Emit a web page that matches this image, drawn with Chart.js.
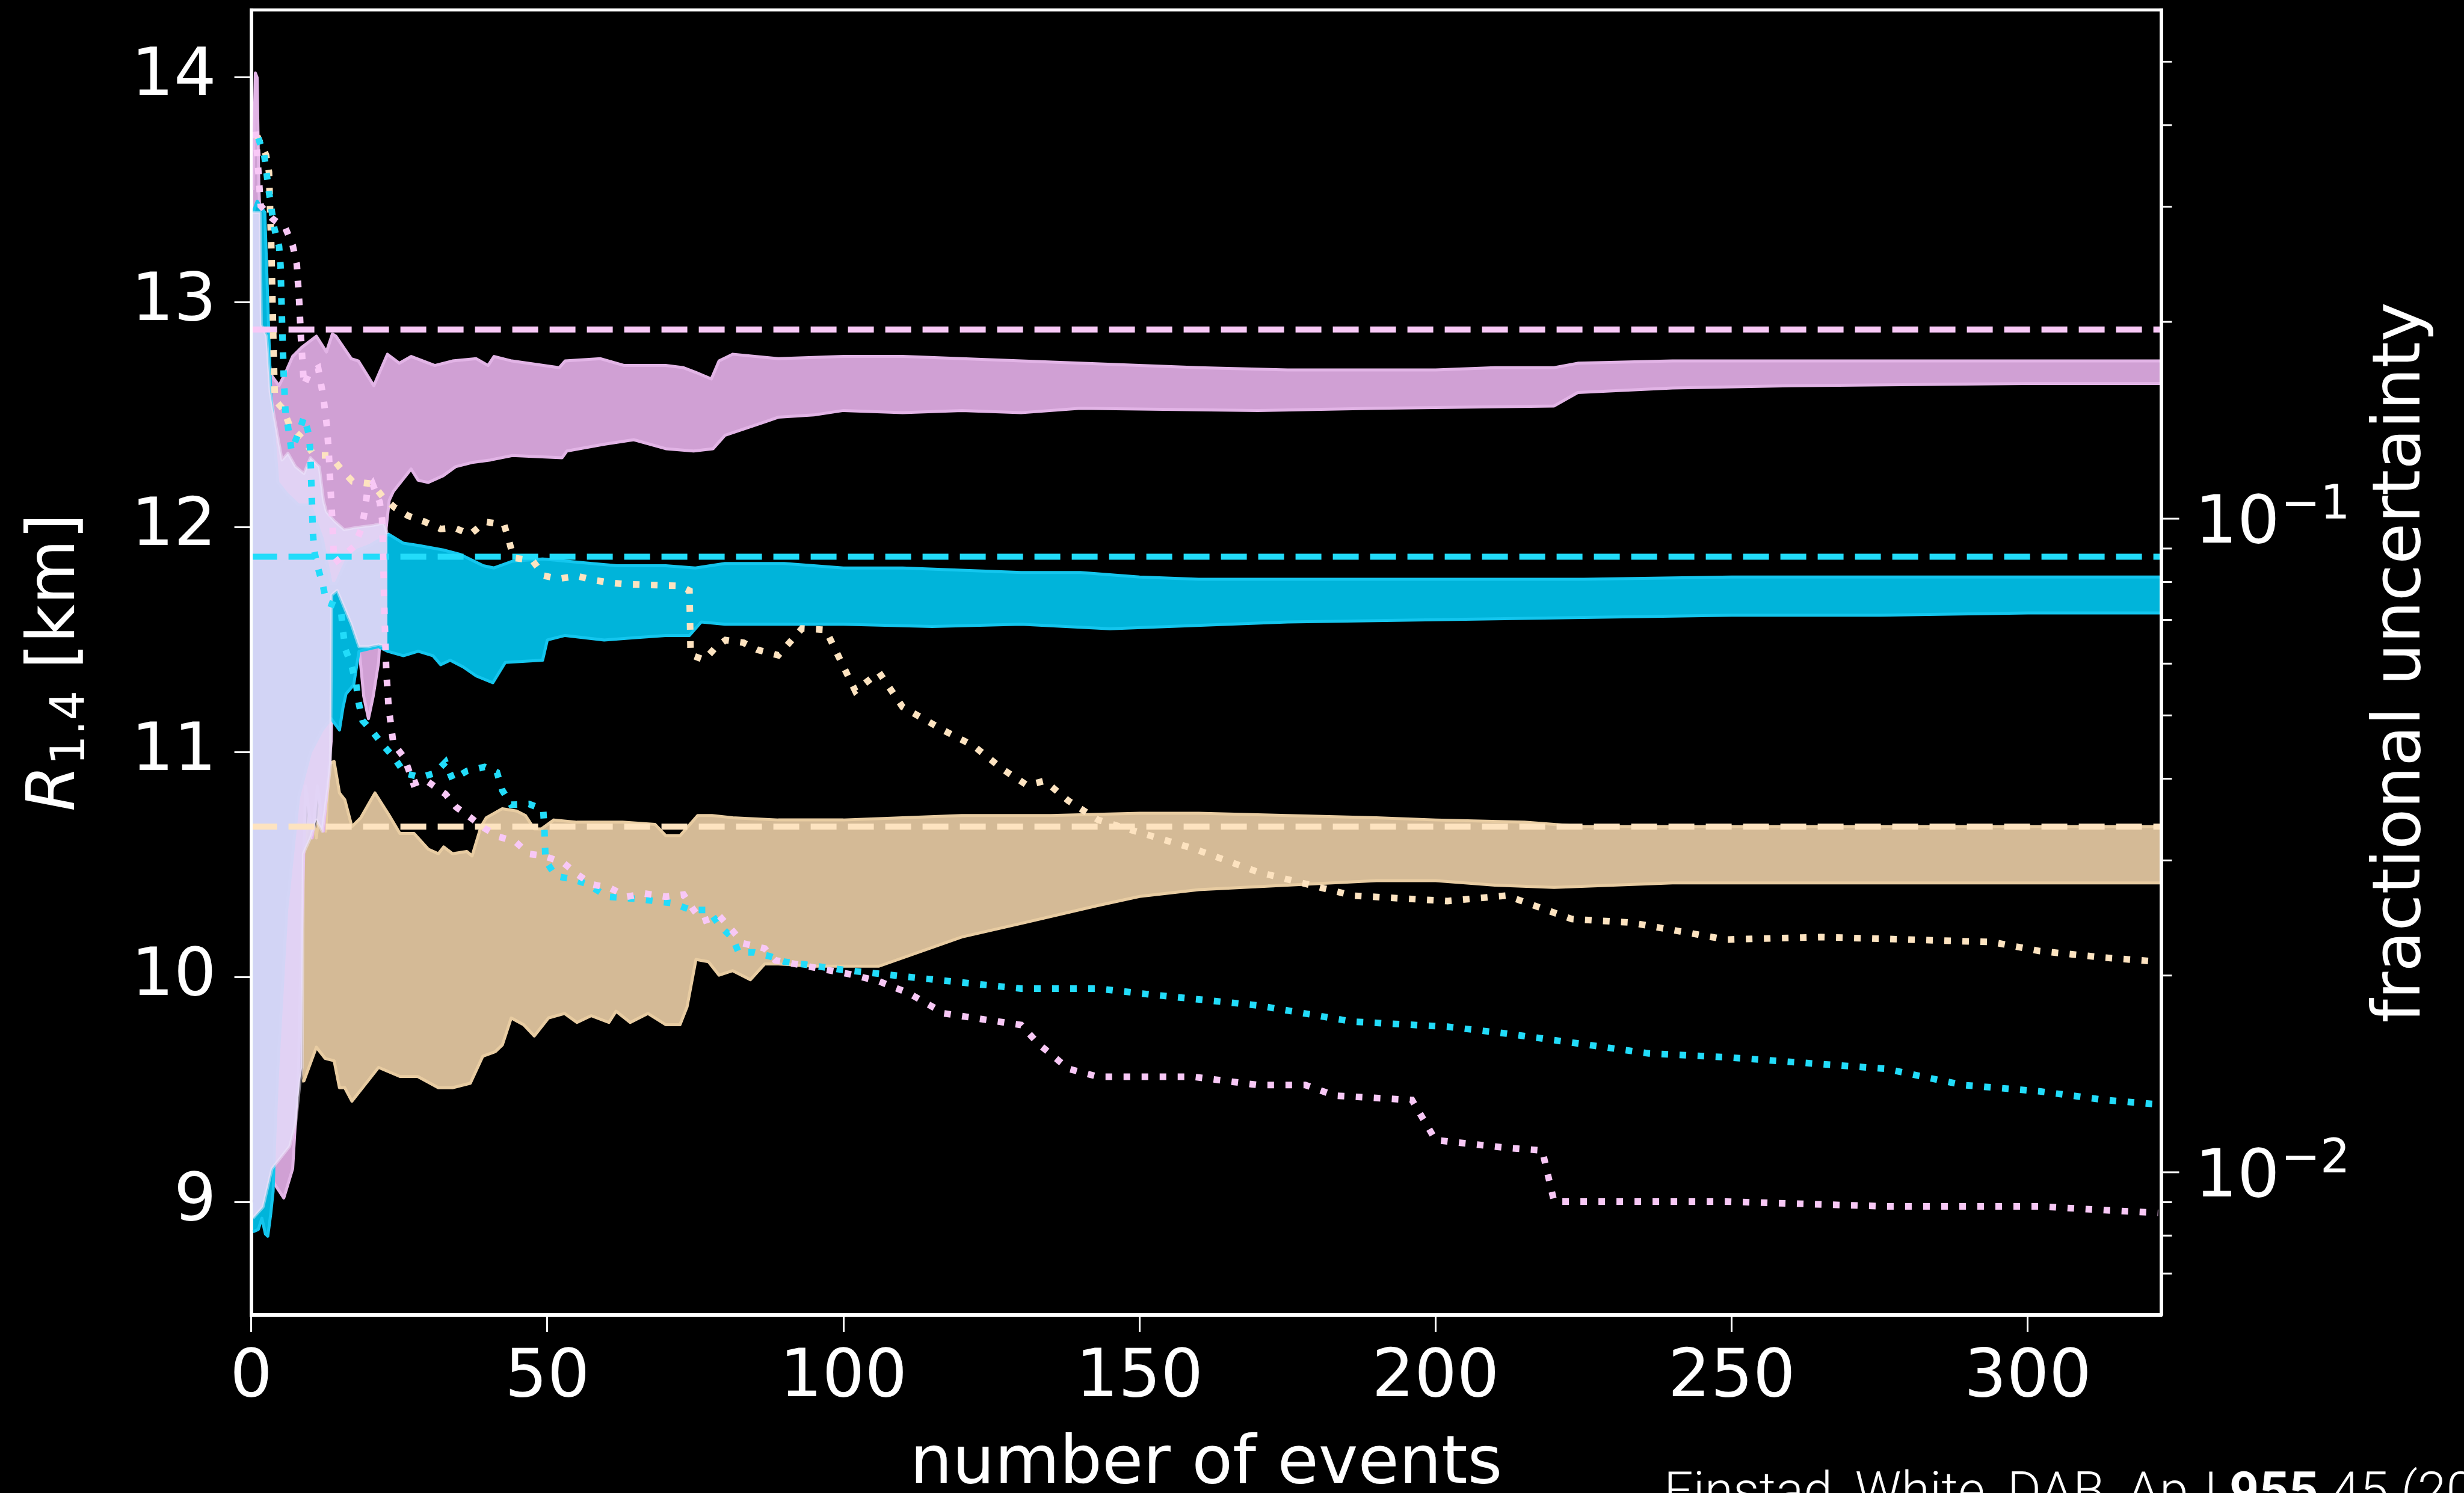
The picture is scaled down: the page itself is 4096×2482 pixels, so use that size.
<!DOCTYPE html>
<html>
<head>
<meta charset="utf-8">
<script src="https://cdn.jsdelivr.net/npm/chart.js@4.4.1/dist/chart.umd.min.js"></script>
<style>
  html, body { margin: 0; padding: 0; background: #000; }
  canvas { display: block; }
</style>
</head>
<body>
<canvas id="chart" width="4096" height="2482"></canvas>
<script>
// axis ticks
const xTicks = [0, 50, 100, 150, 200, 250, 300];
const radiusTicks = [9, 10, 11, 12, 13, 14];
const fracMajorTicks = [0.01, 0.1];
const fracMinorTicks = [0.007, 0.008, 0.009, 0.02, 0.03, 0.04, 0.05, 0.06, 0.07, 0.08, 0.09, 0.2, 0.3, 0.4, 0.5];

// injected radii (dashed lines), km: pink, cyan, tan
const trueRadii = [12.88, 11.87, 10.67];

// credible bands [events, R_1.4 km]
const pinkUpper = [[0.3,13.5],[0.7,14.02],[1.0,14.0],[1.3,13.5],[2.0,13.1],[2.6,12.85],[3.3,12.68],[4.7,12.63],[6.0,12.70],[7.0,12.76],[8.5,12.80],[11.0,12.85],[12.7,12.78],[13.7,12.86],[14.3,12.85],[16.9,12.75],[18.1,12.74],[20.7,12.63],[23.0,12.77],[25.0,12.73],[27.0,12.76],[31.0,12.72],[34.0,12.74],[38.0,12.75],[40.0,12.72],[41.0,12.76],[44.0,12.74],[52.0,12.71],[53.0,12.74],[59.0,12.75],[63.0,12.72],[70.0,12.72],[73.0,12.71],[75.0,12.69],[77.7,12.66],[79.0,12.74],[81.3,12.77],[89.0,12.75],[100,12.76],[110,12.76],[120,12.75],[130,12.74],[140,12.73],[150,12.72],[160,12.71],[175,12.70],[200,12.70],[210,12.71],[220,12.71],[224,12.73],[240,12.74],[280,12.74],[322.5,12.74]];
const pinkLower = [[0.3,9.0],[1.5,9.05],[3.5,9.1],[5.5,9.02],[7.0,9.15],[8.0,9.6],[8.6,10.3],[9.2,10.85],[10.3,10.62],[11.2,10.85],[12.2,10.65],[13.0,10.9],[13.5,11.05],[14.0,11.6],[16.0,11.6],[17.9,11.55],[19.0,11.25],[19.8,11.15],[20.6,11.25],[21.5,11.4],[22.3,11.75],[22.8,12.0],[23.3,12.12],[24.0,12.16],[27.0,12.26],[28.2,12.21],[29.9,12.20],[32.4,12.23],[34.5,12.27],[37.5,12.29],[40.4,12.30],[44.1,12.32],[52.5,12.31],[53.3,12.34],[59.6,12.37],[64.6,12.39],[70,12.35],[74.7,12.34],[78,12.35],[80,12.41],[86.8,12.47],[89,12.49],[95,12.50],[100,12.52],[110,12.51],[120,12.52],[130,12.51],[140,12.53],[170,12.52],[190,12.53],[220,12.54],[224,12.60],[240,12.62],[260,12.63],[300,12.64],[322.5,12.64]];

const cyanUpper = [[0.3,13.4],[1.0,13.45],[2.3,13.4],[2.8,13.0],[3.3,12.6],[4.5,12.2],[6,12.15],[8,12.1],[10,12.1],[12,11.95],[13.5,11.75],[14.3,11.75],[16,11.85],[18,11.9],[20,11.92],[23.2,11.97],[25.7,11.93],[28.2,11.92],[32.4,11.90],[35.3,11.88],[39.2,11.83],[41,11.82],[44.1,11.85],[49.2,11.86],[53.3,11.85],[57.5,11.84],[61.8,11.83],[70,11.83],[75,11.82],[80,11.84],[90,11.84],[100,11.82],[110,11.82],[120,11.81],[130,11.80],[140,11.80],[150,11.78],[160,11.77],[200,11.77],[225,11.77],[250,11.78],[322.5,11.78]];
const cyanLower = [[0.3,8.87],[1.2,8.88],[1.8,8.93],[2.4,8.86],[2.8,8.85],[3.3,8.95],[3.7,9.05],[4.0,9.3],[4.5,9.6],[6,10.3],[8,10.8],[10,11.0],[12,11.1],[13.5,11.15],[14.9,11.1],[15.5,11.2],[16,11.26],[17.3,11.3],[18.2,11.45],[19.8,11.46],[21.5,11.47],[23,11.45],[25.7,11.43],[28.2,11.45],[30.7,11.43],[32,11.39],[33.6,11.41],[35.8,11.38],[38,11.34],[40.8,11.31],[42.9,11.40],[49.2,11.41],[50,11.50],[53,11.52],[56.3,11.51],[59.6,11.50],[64.6,11.51],[70,11.52],[74,11.52],[76,11.58],[80,11.57],[100,11.57],[115,11.56],[130,11.57],[145,11.55],[155,11.56],[175,11.58],[200,11.59],[225,11.60],[250,11.61],[275,11.61],[300,11.62],[322.5,11.62]];

const tanUpper = [[8.6,10.55],[9.2,10.62],[10,10.75],[11,10.62],[12,10.85],[12.6,10.65],[13.1,10.95],[14,10.96],[14.9,10.82],[15.8,10.79],[17,10.67],[18.5,10.71],[20.9,10.82],[23.3,10.72],[25.1,10.64],[27.5,10.64],[29.9,10.57],[31.6,10.55],[32.5,10.58],[34,10.55],[36.4,10.56],[37.3,10.54],[38.8,10.67],[39.7,10.71],[42.4,10.75],[44.8,10.74],[46.3,10.72],[47.8,10.66],[49,10.66],[51.1,10.70],[55,10.69],[62.7,10.69],[68.2,10.68],[70,10.63],[72.4,10.63],[75.4,10.72],[77.8,10.72],[81.3,10.71],[89,10.70],[100,10.70],[110,10.71],[120,10.72],[135,10.72],[150,10.73],[160,10.73],[175,10.72],[190,10.71],[200,10.70],[215,10.69],[225,10.67],[250,10.67],[322.5,10.67]];
const tanLower = [[8.6,9.54],[8.9,9.54],[11,9.69],[12.5,9.64],[14,9.63],[14.9,9.51],[15.8,9.51],[17,9.45],[18.5,9.50],[21.5,9.60],[25.1,9.56],[28.1,9.56],[31.6,9.51],[34,9.51],[37,9.53],[39.1,9.65],[41.2,9.67],[42.4,9.70],[43.9,9.82],[46,9.79],[47.8,9.74],[50.2,9.82],[52.9,9.84],[55,9.80],[57.4,9.83],[60.4,9.80],[61.6,9.85],[64,9.80],[67,9.84],[70,9.79],[72.4,9.79],[73.6,9.87],[75.1,10.08],[77.2,10.07],[79,10.01],[81.3,10.03],[84.3,9.99],[86.7,10.06],[89,10.06],[95,10.05],[106,10.05],[120,10.18],[130,10.24],[143,10.32],[150,10.36],[160,10.39],[175,10.41],[190,10.43],[200,10.43],[210,10.41],[220,10.40],[240,10.42],[322.5,10.42]];

// pale early-time envelope laid over the bands
const earlyUpper = [[0.3,13.4],[1.5,13.4],[1.7,12.9],[2.6,12.85],[3.2,12.6],[3.9,12.49],[5.2,12.30],[6.2,12.33],[7.5,12.27],[8.9,12.24],[10,12.31],[11.5,12.27],[12.2,12.12],[12.7,12.07],[14,12.03],[15.7,11.99],[17.7,12.0],[20.7,12.01],[22.4,12.02],[23,11.97]];
const earlyLower = [[0.3,8.93],[2,8.98],[3.5,9.15],[5,9.2],[6.5,9.25],[7.5,9.35],[8.3,9.55],[8.6,9.6],[8.8,10.55],[10,10.62],[11,10.7],[12,10.65],[13,10.85],[13.4,10.95],[13.6,11.7],[14.5,11.72],[16.9,11.57],[18.2,11.47],[19.8,11.47],[21.5,11.48],[23,11.47]];

// fractional uncertainty (right log axis) [events, value]
const pinkFrac = [[0.75,0.391],[1.6,0.301],[3.5,0.288],[5.8,0.278],[7.0,0.262],[7.7,0.245],[8.1,0.215],[8.4,0.189],[8.6,0.177],[8.9,0.160],[9.8,0.167],[11.3,0.170],[12.2,0.153],[12.8,0.138],[13.1,0.126],[13.4,0.111],[13.7,0.0991],[14.0,0.0855],[15.4,0.0875],[17.3,0.0906],[18.6,0.0964],[19.2,0.103],[19.6,0.110],[20.5,0.113],[21.7,0.106],[22.1,0.0998],[22.3,0.0871],[22.5,0.0716],[22.7,0.0627],[22.8,0.0587],[23.2,0.0515],[23.6,0.0483],[24.0,0.0453],[25.9,0.0430],[27.4,0.0393],[29.3,0.0399],[32.8,0.0379],[34.6,0.0362],[37.0,0.0349],[39.4,0.0336],[41.8,0.0326],[44.5,0.0321],[46.9,0.0307],[49.3,0.0305],[52.6,0.0298],[55.0,0.0286],[57.4,0.0276],[60.7,0.0272],[63.4,0.0264],[66.4,0.0267],[70.0,0.0264],[73.0,0.0266],[74.7,0.0252],[76.2,0.0242],[79.0,0.0247],[81.3,0.0234],[83.1,0.0224],[86.7,0.0220],[88.5,0.0211],[101,0.0201],[106,0.0196],[111,0.0188],[117,0.0175],[130,0.0168],[133,0.0157],[138,0.0144],[143,0.0140],[159,0.0140],[170,0.0136],[178,0.0136],[183,0.0131],[196,0.0129],[200,0.0112],[212,0.0109],[218,0.0108],[220,0.00902],[249,0.00902],[276,0.00887],[302,0.00887],[313,0.00875],[322,0.00867]];
const cyanFrac = [[1.2,0.382],[2.2,0.360],[3.0,0.316],[3.9,0.278],[4.7,0.261],[4.95,0.244],[5.2,0.200],[5.5,0.164],[5.8,0.145],[6.4,0.135],[6.8,0.127],[8.1,0.136],[8.9,0.143],[9.8,0.134],[10.0,0.125],[10.4,0.0959],[10.6,0.0897],[11.2,0.0845],[12.1,0.0791],[12.7,0.0745],[14.4,0.0735],[15.2,0.0718],[15.5,0.0673],[15.9,0.0631],[16.9,0.0598],[17.7,0.0560],[18.1,0.0525],[18.8,0.0491],[20.5,0.0472],[22.3,0.0450],[24.2,0.0430],[25.9,0.0408],[28.6,0.0402],[31.0,0.0408],[32.8,0.0424],[34.0,0.0399],[36.4,0.0411],[39.4,0.0417],[41.5,0.0409],[42.4,0.0384],[43.9,0.0365],[46.9,0.0366],[49.3,0.0359],[49.5,0.0336],[49.7,0.0300],[51.4,0.0284],[54.1,0.0281],[56.8,0.0276],[60.1,0.0264],[65.2,0.0262],[71.2,0.0258],[74.2,0.0252],[77.2,0.0252],[79.0,0.0239],[81.3,0.0228],[82.3,0.0217],[84.9,0.0217],[87.6,0.0214],[90,0.0210],[100,0.0204],[111,0.0199],[130,0.0191],[143,0.0191],[152,0.0187],[170,0.0180],[186,0.0170],[202,0.0167],[212,0.0163],[225,0.0157],[236,0.0152],[249,0.0150],[276,0.0144],[289,0.0136],[302,0.0133],[313,0.0129],[322,0.0127]];
const tanFrac = [[1.0,0.385],[2.5,0.360],[3.0,0.339],[3.2,0.295],[3.4,0.259],[3.6,0.212],[3.75,0.186],[3.9,0.163],[4.0,0.152],[5.4,0.147],[6.6,0.138],[8.9,0.132],[10.6,0.125],[13.3,0.125],[15.2,0.119],[17.1,0.114],[20.5,0.113],[22.2,0.108],[24.2,0.104],[26.5,0.101],[29.3,0.0989],[32.0,0.0964],[34.3,0.0968],[37.0,0.0946],[39.5,0.0989],[42.7,0.0979],[43.5,0.0927],[44.3,0.0871],[47.5,0.0863],[49.4,0.0818],[51.9,0.0809],[55.0,0.0817],[58.0,0.0805],[60.5,0.0798],[63.0,0.0794],[72.4,0.0789],[74.0,0.0776],[74.2,0.0619],[76.5,0.0608],[78.4,0.0635],[80.1,0.0652],[83.1,0.0646],[85.5,0.0630],[89.0,0.0618],[93,0.0679],[97,0.0676],[102,0.0545],[106,0.0582],[110,0.0515],[117,0.0474],[122,0.0449],[127,0.0413],[131,0.0391],[134,0.0397],[138,0.0370],[143,0.0346],[150,0.0331],[159,0.0313],[170,0.0288],[186,0.0265],[202,0.0260],[212,0.0265],[223,0.0244],[233,0.0241],[249,0.0227],[265,0.0229],[280,0.0227],[294,0.0225],[302,0.0218],[313,0.0213],[322,0.0210]];

const xMax = 322.5;
const rMin = 8.5, rMax = 14.3;
const fMin = 0.00605, fMax = 0.6;

const xy = pts => pts.map(p => ({ x: p[0], y: p[1] }));
const FONT = 'DejaVu Sans';

function edge(pts, color, fill) {
  return {
    data: xy(pts), yAxisID: 'y', borderColor: color, borderWidth: 5,
    borderJoinStyle: 'round', pointRadius: 0, fill: fill ? '-1' : false,
    backgroundColor: fill || 'transparent'
  };
}
function flatLine(y, color) {
  return {
    data: [{ x: 0, y: y }, { x: xMax, y: y }], yAxisID: 'y', borderColor: color,
    borderWidth: 10, borderDash: [43, 19], pointRadius: 0, fill: false
  };
}
function dotted(pts, color) {
  return {
    data: xy(pts), yAxisID: 'y2', borderColor: color, borderWidth: 11,
    borderDash: [11, 19], pointRadius: 0, fill: false
  };
}
// keep the plot box where the source has it
function pin(size, horizontal) {
  return s => {
    if (horizontal) s.height = size; else s.width = size;
    s.paddingTop = 0; s.paddingBottom = 0; s.paddingLeft = 0; s.paddingRight = 0;
  };
}

// frame, right log ticks, axis titles, credit line
const decorations = {
  id: 'decorations',
  beforeDraw(chart) {
    const ctx = chart.ctx;
    ctx.save();
    ctx.fillStyle = '#000';
    ctx.fillRect(0, 0, chart.width, chart.height);
    ctx.restore();
  },
  afterDraw(chart) {
    const { ctx, chartArea: a, scales } = chart;
    const y2 = scales.y2;
    ctx.save();
    ctx.strokeStyle = '#fff';
    ctx.lineWidth = 5;
    ctx.strokeRect(a.left, a.top, a.right - a.left, a.bottom - a.top);

    ctx.lineWidth = 3;
    fracMinorTicks.forEach(v => {
      const p = y2.getPixelForValue(v);
      ctx.beginPath(); ctx.moveTo(a.right, p); ctx.lineTo(a.right + 18, p); ctx.stroke();
    });
    fracMajorTicks.forEach(v => {
      const p = y2.getPixelForValue(v);
      ctx.beginPath(); ctx.moveTo(a.right, p); ctx.lineTo(a.right + 30, p); ctx.stroke();
    });

    ctx.fillStyle = '#fff';
    ctx.textBaseline = 'alphabetic';
    ctx.textAlign = 'left';
    fracMajorTicks.forEach(v => {
      const p = y2.getPixelForValue(v);
      const x0 = a.right + 56;
      ctx.font = '111px "' + FONT + '"';
      ctx.fillText('10', x0, p + 40);
      const w = ctx.measureText('10').width;
      ctx.font = '78px "' + FONT + '"';
      ctx.fillText('\u2212' + Math.round(-Math.log10(v)), x0 + w + 2, p);
    });

    const midY = (a.top + a.bottom) / 2;
    // left title: R_{1.4} [km]
    ctx.save();
    ctx.translate(123, midY);
    ctx.rotate(-Math.PI / 2);
    const fR = 'italic 111px "' + FONT + '"', fS = '78px "' + FONT + '"', fN = '111px "' + FONT + '"';
    ctx.font = fR; const wR = ctx.measureText('R').width;
    ctx.font = fS; const wS = ctx.measureText('1.4').width;
    ctx.font = fN; const wN = ctx.measureText(' [km]').width;
    let x = -(wR + wS + wN) / 2;
    ctx.font = fR; ctx.fillText('R', x, 0); x += wR;
    ctx.font = fS; ctx.fillText('1.4', x, 17); x += wS;
    ctx.font = fN; ctx.fillText(' [km]', x, 0);
    ctx.restore();

    // right title
    ctx.save();
    ctx.translate(4022, midY);
    ctx.rotate(-Math.PI / 2);
    ctx.textAlign = 'center';
    ctx.font = '111px "' + FONT + '"';
    ctx.fillText('fractional uncertainty', 0, 0);
    ctx.restore();

    // bottom title
    ctx.textAlign = 'center';
    ctx.font = '111px "' + FONT + '"';
    ctx.fillText('number of events', (a.left + a.right) / 2, 2465);

    // credit (runs off the canvas edge as in the source)
    ctx.textAlign = 'left';
    const parts = [['300 86px Roboto', 'Finstad, White, DAB, ApJ '], ['bold 86px Roboto', '955'], ['300 86px Roboto', ' 45 (2023)']];
    let cx = 2766;
    parts.forEach(([f, t]) => { ctx.font = f; ctx.fillText(t, cx, 2507); cx += ctx.measureText(t).width; });
    ctx.restore();
  }
};

new Chart(document.getElementById('chart'), {
  type: 'line',
  data: {
    datasets: [
      dotted(pinkFrac, '#f8c8f6'),
      dotted(cyanFrac, '#22dcfa'),
      dotted(tanFrac, '#fde3c0'),
      flatLine(trueRadii[0], '#f8c8f6'),
      flatLine(trueRadii[1], '#22dcfa'),
      flatLine(trueRadii[2], '#fde3c0'),
      edge(earlyLower, 'rgba(240,232,252,0.5)'),
      edge(earlyUpper, 'rgba(240,232,252,0.5)', 'rgba(226,214,246,0.93)'),
      edge(cyanLower, '#14c6ee'),
      edge(cyanUpper, '#14c6ee', '#00b4da'),
      edge(pinkLower, '#e2b4e6'),
      edge(pinkUpper, '#e2b4e6', '#d0a0d4'),
      edge(tanLower, '#e8cca2'),
      edge(tanUpper, '#e8cca2', '#d4ba96')
    ]
  },
  options: {
    responsive: false,
    devicePixelRatio: 1,
    animation: false,
    layout: { padding: { top: 16.6, left: 0, right: 0, bottom: 0 } },
    plugins: { legend: { display: false }, tooltip: { enabled: false } },
    scales: {
      x: {
        type: 'linear', min: 0, max: xMax,
        afterBuildTicks: s => { s.ticks = xTicks.map(v => ({ value: v })); },
        afterFit: pin(296, true),
        ticks: { color: '#fff', font: { family: FONT, size: 111 }, padding: 12, maxRotation: 0, autoSkip: false },
        grid: { drawOnChartArea: false, color: '#fff', tickLength: 28, tickWidth: 3, lineWidth: 3 },
        border: { color: '#fff', width: 6 }
      },
      y: {
        type: 'linear', position: 'left', min: rMin, max: rMax,
        afterBuildTicks: s => { s.ticks = radiusTicks.map(v => ({ value: v })); },
        afterFit: pin(417.6, false),
        ticks: { color: '#fff', font: { family: FONT, size: 111 }, padding: 30 },
        grid: { drawOnChartArea: false, color: '#fff', tickLength: 28, tickWidth: 3, lineWidth: 3 },
        border: { color: '#fff', width: 6 }
      },
      y2: {
        type: 'logarithmic', position: 'right', min: fMin, max: fMax,
        afterFit: pin(503.5, false),
        ticks: { display: false },
        grid: { display: false },
        border: { color: '#fff', width: 6 }
      }
    }
  },
  plugins: [decorations]
});
</script>
</body>
</html>
